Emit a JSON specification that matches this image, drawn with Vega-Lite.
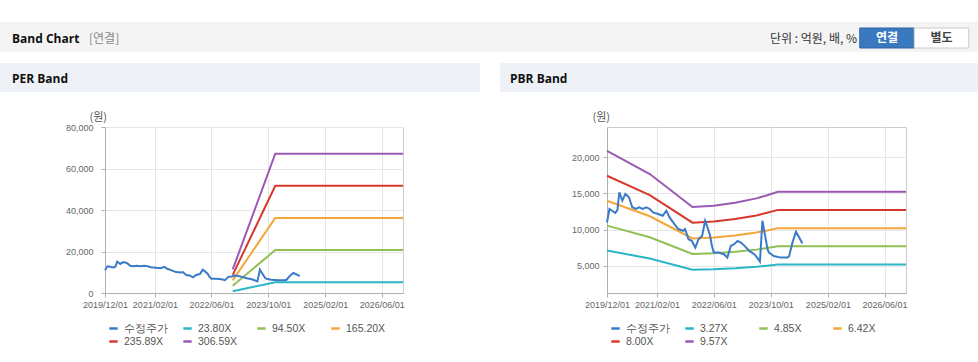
{
  "$schema": "https://vega.github.io/schema/vega-lite/v6.json",
  "padding": {"top": 22, "left": 0, "right": 0, "bottom": 0},
  "background": "#ffffff",
  "config": {"font": "Liberation Sans"},
  "datasets": {
    "price": [
      {"series": "수정주가", "date": "2019-12-01", "value": 11000},
      {"series": "수정주가", "date": "2019-12-22", "value": 12850},
      {"series": "수정주가", "date": "2020-01-13", "value": 12600},
      {"series": "수정주가", "date": "2020-02-10", "value": 12300},
      {"series": "수정주가", "date": "2020-02-28", "value": 12700},
      {"series": "수정주가", "date": "2020-03-15", "value": 15150},
      {"series": "수정주가", "date": "2020-04-10", "value": 14000},
      {"series": "수정주가", "date": "2020-05-06", "value": 14920},
      {"series": "수정주가", "date": "2020-06-06", "value": 14460},
      {"series": "수정주가", "date": "2020-07-04", "value": 13080},
      {"series": "수정주가", "date": "2020-08-04", "value": 12850},
      {"series": "수정주가", "date": "2020-09-01", "value": 13080},
      {"series": "수정주가", "date": "2020-10-01", "value": 12850},
      {"series": "수정주가", "date": "2020-11-01", "value": 13080},
      {"series": "수정주가", "date": "2020-12-01", "value": 12850},
      {"series": "수정주가", "date": "2020-12-28", "value": 12380},
      {"series": "수정주가", "date": "2021-02-10", "value": 12150},
      {"series": "수정주가", "date": "2021-03-22", "value": 11920},
      {"series": "수정주가", "date": "2021-04-22", "value": 12610},
      {"series": "수정주가", "date": "2021-05-19", "value": 11690},
      {"series": "수정주가", "date": "2021-06-19", "value": 11000},
      {"series": "수정주가", "date": "2021-08-01", "value": 10080},
      {"series": "수정주가", "date": "2021-09-13", "value": 9850},
      {"series": "수정주가", "date": "2021-09-28", "value": 10080},
      {"series": "수정주가", "date": "2021-10-28", "value": 8690},
      {"series": "수정주가", "date": "2021-11-25", "value": 8460},
      {"series": "수정주가", "date": "2021-12-25", "value": 7540},
      {"series": "수정주가", "date": "2022-01-22", "value": 8690},
      {"series": "수정주가", "date": "2022-02-22", "value": 9150},
      {"series": "수정주가", "date": "2022-03-19", "value": 11230},
      {"series": "수정주가", "date": "2022-04-04", "value": 10540},
      {"series": "수정주가", "date": "2022-05-01", "value": 9150},
      {"series": "수정주가", "date": "2022-05-16", "value": 7770},
      {"series": "수정주가", "date": "2022-06-01", "value": 6850},
      {"series": "수정주가", "date": "2022-07-13", "value": 6850},
      {"series": "수정주가", "date": "2022-08-28", "value": 6620},
      {"series": "수정주가", "date": "2022-09-25", "value": 6150},
      {"series": "수정주가", "date": "2022-10-25", "value": 7770},
      {"series": "수정주가", "date": "2022-11-22", "value": 8000},
      {"series": "수정주가", "date": "2022-12-22", "value": 8460},
      {"series": "수정주가", "date": "2023-01-19", "value": 8230},
      {"series": "수정주가", "date": "2023-02-19", "value": 7770},
      {"series": "수정주가", "date": "2023-04-01", "value": 7080},
      {"series": "수정주가", "date": "2023-05-13", "value": 6620},
      {"series": "수정주가", "date": "2023-06-07", "value": 6150},
      {"series": "수정주가", "date": "2023-07-01", "value": 5600},
      {"series": "수정주가", "date": "2023-07-22", "value": 11230},
      {"series": "수정주가", "date": "2023-08-04", "value": 10080},
      {"series": "수정주가", "date": "2023-09-04", "value": 7310},
      {"series": "수정주가", "date": "2023-09-16", "value": 6850},
      {"series": "수정주가", "date": "2023-10-28", "value": 6380},
      {"series": "수정주가", "date": "2023-12-25", "value": 6150},
      {"series": "수정주가", "date": "2024-02-22", "value": 6150},
      {"series": "수정주가", "date": "2024-03-07", "value": 6380},
      {"series": "수정주가", "date": "2024-04-04", "value": 8230},
      {"series": "수정주가", "date": "2024-05-04", "value": 9710},
      {"series": "수정주가", "date": "2024-06-01", "value": 8920},
      {"series": "수정주가", "date": "2024-06-28", "value": 8090}
    ],
    "perBands": [
      {"series": "23.80X", "date": "2022-12-01", "value": 881},
      {"series": "23.80X", "date": "2023-12-01", "value": 5212},
      {"series": "23.80X", "date": "2026-12-01", "value": 5212},
      {"series": "94.50X", "date": "2022-12-01", "value": 3497},
      {"series": "94.50X", "date": "2023-12-01", "value": 20696},
      {"series": "94.50X", "date": "2026-12-01", "value": 20696},
      {"series": "165.20X", "date": "2022-12-01", "value": 6112},
      {"series": "165.20X", "date": "2023-12-01", "value": 36179},
      {"series": "165.20X", "date": "2026-12-01", "value": 36179},
      {"series": "235.89X", "date": "2022-12-01", "value": 8728},
      {"series": "235.89X", "date": "2023-12-01", "value": 51660},
      {"series": "235.89X", "date": "2026-12-01", "value": 51660},
      {"series": "306.59X", "date": "2022-12-01", "value": 11344},
      {"series": "306.59X", "date": "2023-12-01", "value": 67143},
      {"series": "306.59X", "date": "2026-12-01", "value": 67143}
    ],
    "pbrBands": [
      {"series": "3.27X", "date": "2019-12-01", "value": 7119},
      {"series": "3.27X", "date": "2020-12-01", "value": 6033},
      {"series": "3.27X", "date": "2021-12-01", "value": 4480},
      {"series": "3.27X", "date": "2022-06-01", "value": 4545},
      {"series": "3.27X", "date": "2022-12-01", "value": 4683},
      {"series": "3.27X", "date": "2023-06-01", "value": 4889},
      {"series": "3.27X", "date": "2023-09-01", "value": 5036},
      {"series": "3.27X", "date": "2023-12-01", "value": 5199},
      {"series": "3.27X", "date": "2026-12-01", "value": 5199},
      {"series": "4.85X", "date": "2019-12-01", "value": 10558},
      {"series": "4.85X", "date": "2020-12-01", "value": 8948},
      {"series": "4.85X", "date": "2021-12-01", "value": 6645},
      {"series": "4.85X", "date": "2022-06-01", "value": 6742},
      {"series": "4.85X", "date": "2022-12-01", "value": 6945},
      {"series": "4.85X", "date": "2023-06-01", "value": 7251},
      {"series": "4.85X", "date": "2023-09-01", "value": 7469},
      {"series": "4.85X", "date": "2023-12-01", "value": 7712},
      {"series": "4.85X", "date": "2026-12-01", "value": 7712},
      {"series": "6.42X", "date": "2019-12-01", "value": 13976},
      {"series": "6.42X", "date": "2020-12-01", "value": 11845},
      {"series": "6.42X", "date": "2021-12-01", "value": 8795},
      {"series": "6.42X", "date": "2022-06-01", "value": 8924},
      {"series": "6.42X", "date": "2022-12-01", "value": 9193},
      {"series": "6.42X", "date": "2023-06-01", "value": 9598},
      {"series": "6.42X", "date": "2023-09-01", "value": 9887},
      {"series": "6.42X", "date": "2023-12-01", "value": 10208},
      {"series": "6.42X", "date": "2026-12-01", "value": 10208},
      {"series": "8.00X", "date": "2019-12-01", "value": 17416},
      {"series": "8.00X", "date": "2020-12-01", "value": 14760},
      {"series": "8.00X", "date": "2021-12-01", "value": 10960},
      {"series": "8.00X", "date": "2022-06-01", "value": 11120},
      {"series": "8.00X", "date": "2022-12-01", "value": 11456},
      {"series": "8.00X", "date": "2023-06-01", "value": 11960},
      {"series": "8.00X", "date": "2023-09-01", "value": 12320},
      {"series": "8.00X", "date": "2023-12-01", "value": 12720},
      {"series": "8.00X", "date": "2026-12-01", "value": 12720},
      {"series": "9.57X", "date": "2019-12-01", "value": 20834},
      {"series": "9.57X", "date": "2020-12-01", "value": 17657},
      {"series": "9.57X", "date": "2021-12-01", "value": 13111},
      {"series": "9.57X", "date": "2022-06-01", "value": 13302},
      {"series": "9.57X", "date": "2022-12-01", "value": 13704},
      {"series": "9.57X", "date": "2023-06-01", "value": 14307},
      {"series": "9.57X", "date": "2023-09-01", "value": 14738},
      {"series": "9.57X", "date": "2023-12-01", "value": 15216},
      {"series": "9.57X", "date": "2026-12-01", "value": 15216}
    ],
    "buttons": [
      {"btn": "연결"},
      {"btn": "별도"}
    ]
  },
  "spacing": 11,
  "vconcat": [
    {
      "spacing": 0,
      "hconcat": [
        {
          "width": 84, "height": 30,
          "view": {"fill": "#f4f4f4", "stroke": null},
          "data": {"values": [{}]},
          "mark": {"type": "text", "text": ""},
          "encoding": {},
          "title": {"text": "Band Chart", "anchor": "start", "dx": 12, "offset": -24, "font": "Open Sans", "fontSize": 12, "fontWeight": "bold", "color": "#111111"}
        },
        {
          "width": 676, "height": 30,
          "view": {"fill": "#f4f4f4", "stroke": null},
          "data": {"values": [{}]},
          "mark": {"type": "text", "text": ""},
          "encoding": {},
          "title": {"text": "[연결]", "anchor": "start", "dx": 5, "offset": -24, "font": "Noto Sans CJK KR", "fontSize": 12, "fontWeight": "normal", "color": "#888888"}
        },
        {
          "width": 218, "height": 30,
          "view": {"fill": "#f4f4f4", "stroke": null},
          "data": {"name": "buttons"},
          "title": {"text": "단위 : 억원, 배, %", "anchor": "start", "dx": 10, "offset": -24, "font": "Noto Sans CJK KR", "fontSize": 12, "fontWeight": "normal", "color": "#333333"},
          "encoding": {
            "x": {"field": "btn", "type": "nominal", "sort": null, "axis": null,
                  "scale": {"domain": ["연결", "별도"], "paddingInner": 0, "paddingOuter": 1.158, "align": 0.915}},
            "y": {"datum": "b", "type": "nominal", "axis": null,
                  "scale": {"paddingInner": 0, "paddingOuter": 0.25, "align": 0.6}}
          },
          "layer": [
            {
              "mark": {"type": "rect", "strokeWidth": 1},
              "encoding": {
                "fill": {"field": "btn", "type": "nominal", "legend": null, "scale": {"domain": ["연결", "별도"], "range": ["#3a78bf", "#ffffff"]}},
                "stroke": {"field": "btn", "type": "nominal", "legend": null, "scale": {"domain": ["연결", "별도"], "range": ["#2e66a6", "#cccccc"]}}
              }
            },
            {
              "mark": {"type": "text", "font": "Noto Sans CJK KR", "fontSize": 12, "fontWeight": "bold", "baseline": "middle"},
              "encoding": {
                "text": {"field": "btn"},
                "color": {"field": "btn", "type": "nominal", "legend": null, "scale": {"domain": ["연결", "별도"], "range": ["#ffffff", "#444444"]}}
              }
            }
          ]
        }
      ]
    },
    {
      "spacing": 18,
      "vconcat": [
        {
          "spacing": 20,
          "hconcat": [
            {
              "width": 480, "height": 29,
              "view": {"fill": "#eef1f6", "stroke": null},
              "data": {"values": [{}]},
              "mark": {"type": "text", "text": ""},
              "encoding": {},
              "title": {"text": "PER Band", "anchor": "start", "dx": 12, "offset": -23, "font": "Open Sans", "fontSize": 12, "fontWeight": "bold", "color": "#111111"}
            },
            {
              "width": 478, "height": 29,
              "view": {"fill": "#eef1f6", "stroke": null},
              "data": {"values": [{}]},
              "mark": {"type": "text", "text": ""},
              "encoding": {},
              "title": {"text": "PBR Band", "anchor": "start", "dx": 10, "offset": -23, "font": "Open Sans", "fontSize": 12, "fontWeight": "bold", "color": "#111111"}
            }
          ]
        },
        {
          "spacing": 43,
          "resolve": {"scale": {"color": "independent"}},
          "hconcat": [
            {
              "width": 1, "height": 1,
              "view": {"stroke": null},
              "data": {"values": [{}]},
              "mark": {"type": "text", "text": ""},
              "encoding": {}
            },
            {
              "spacing": 138,
              "resolve": {"scale": {"color": "independent"}},
              "hconcat": [
                {
                  "width": 298, "height": 166,
                  "view": {"stroke": "#cccccc"},
                  "encoding": {
                    "x": {"field": "date", "type": "temporal",
                          "scale": {"type": "utc", "domain": [{"year": 2019, "month": 12, "date": 1, "utc": true}, {"year": 2026, "month": 12, "date": 1, "utc": true}]},
                          "axis": {"title": null,
                                   "values": [{"year": 2019, "month": 12, "date": 1, "utc": true}, {"year": 2021, "month": 2, "date": 1, "utc": true}, {"year": 2022, "month": 6, "date": 1, "utc": true}, {"year": 2023, "month": 10, "date": 1, "utc": true}, {"year": 2025, "month": 2, "date": 1, "utc": true}, {"year": 2026, "month": 6, "date": 1, "utc": true}],
                                   "labelExpr": "utcFormat(datum.value, '%Y/%m/%d')",
                                   "labelFlush": false, "labelOverlap": false, "labelFontSize": 9, "labelColor": "#666666", "labelPadding": 3,
                                   "tickSize": 4, "tickColor": "#b0b0b0", "domainColor": "#b0b0b0", "gridColor": "#e6e6e6"}},
                    "y": {"field": "value", "type": "quantitative",
                          "scale": {"domain": [0, 80000], "nice": false, "zero": false},
                          "axis": {"values": [0, 20000, 40000, 60000, 80000], "format": ",d",
                                   "title": "(원)", "titleAngle": 0, "titleX": -16, "titleY": -5, "titleAlign": "left", "titleBaseline": "bottom",
                                   "titleFont": "Noto Sans CJK KR", "titleFontSize": 11, "titleFontWeight": "normal", "titleColor": "#555555",
                                   "minExtent": 60, "labelFontSize": 9, "labelColor": "#666666", "labelPadding": 8,
                                   "tickSize": 4, "tickColor": "#b0b0b0", "domainColor": "#b0b0b0", "gridColor": "#e6e6e6"}},
                    "color": {"field": "series", "type": "nominal",
                              "scale": {"domain": ["수정주가", "23.80X", "94.50X", "165.20X", "235.89X", "306.59X"], "range": ["#3a7bc8", "#29b6c9", "#92bf55", "#f3a73a", "#d7382c", "#9b59b6"]},
                              "legend": {"orient": "none", "legendX": 3, "legendY": 196, "direction": "horizontal", "columns": 4, "title": null,
                                         "symbolType": "stroke", "symbolSize": 70, "symbolStrokeWidth": 2.5, "labelFontSize": 10.5, "labelColor": "#555555",
                                         "labelOffset": 5, "columnPadding": 10, "rowPadding": 2, "gridAlign": "all"}}
                  },
                  "layer": [
                    {"data": {"name": "perBands"}, "mark": {"type": "line", "strokeWidth": 2}, "encoding": {}},
                    {"data": {"name": "price"}, "mark": {"type": "line", "strokeWidth": 2}, "encoding": {}}
                  ]
                },
                {
                  "width": 299, "height": 166,
                  "view": {"stroke": "#cccccc"},
                  "encoding": {
                    "x": {"field": "date", "type": "temporal",
                          "scale": {"type": "utc", "domain": [{"year": 2019, "month": 12, "date": 1, "utc": true}, {"year": 2026, "month": 12, "date": 1, "utc": true}]},
                          "axis": {"title": null,
                                   "values": [{"year": 2019, "month": 12, "date": 1, "utc": true}, {"year": 2021, "month": 2, "date": 1, "utc": true}, {"year": 2022, "month": 6, "date": 1, "utc": true}, {"year": 2023, "month": 10, "date": 1, "utc": true}, {"year": 2025, "month": 2, "date": 1, "utc": true}, {"year": 2026, "month": 6, "date": 1, "utc": true}],
                                   "labelExpr": "utcFormat(datum.value, '%Y/%m/%d')",
                                   "labelFlush": false, "labelOverlap": false, "labelFontSize": 9, "labelColor": "#666666", "labelPadding": 3,
                                   "tickSize": 4, "tickColor": "#b0b0b0", "domainColor": "#b0b0b0", "gridColor": "#e6e6e6"}},
                    "y": {"field": "value", "type": "quantitative",
                          "scale": {"domain": [1280, 24130], "nice": false, "zero": false},
                          "axis": {"values": [5000, 10000, 15000, 20000], "format": ",d",
                                   "title": "(원)", "titleAngle": 0, "titleX": -15, "titleY": -5, "titleAlign": "left", "titleBaseline": "bottom",
                                   "titleFont": "Noto Sans CJK KR", "titleFontSize": 11, "titleFontWeight": "normal", "titleColor": "#555555",
                                   "minExtent": 60, "labelFontSize": 9, "labelColor": "#666666", "labelPadding": 4,
                                   "tickSize": 4, "tickColor": "#b0b0b0", "domainColor": "#b0b0b0", "gridColor": "#e6e6e6"}},
                    "color": {"field": "series", "type": "nominal",
                              "scale": {"domain": ["수정주가", "3.27X", "4.85X", "6.42X", "8.00X", "9.57X"], "range": ["#3a7bc8", "#29b6c9", "#92bf55", "#f3a73a", "#d7382c", "#9b59b6"]},
                              "legend": {"orient": "none", "legendX": 3, "legendY": 196, "direction": "horizontal", "columns": 4, "title": null,
                                         "symbolType": "stroke", "symbolSize": 70, "symbolStrokeWidth": 2.5, "labelFontSize": 10.5, "labelColor": "#555555",
                                         "labelOffset": 5, "columnPadding": 10, "rowPadding": 2, "gridAlign": "all"}}
                  },
                  "layer": [
                    {"data": {"name": "pbrBands"}, "mark": {"type": "line", "strokeWidth": 2}, "encoding": {}},
                    {"data": {"name": "price"}, "mark": {"type": "line", "strokeWidth": 2}, "encoding": {}}
                  ]
                }
              ]
            }
          ]
        }
      ]
    }
  ]
}
